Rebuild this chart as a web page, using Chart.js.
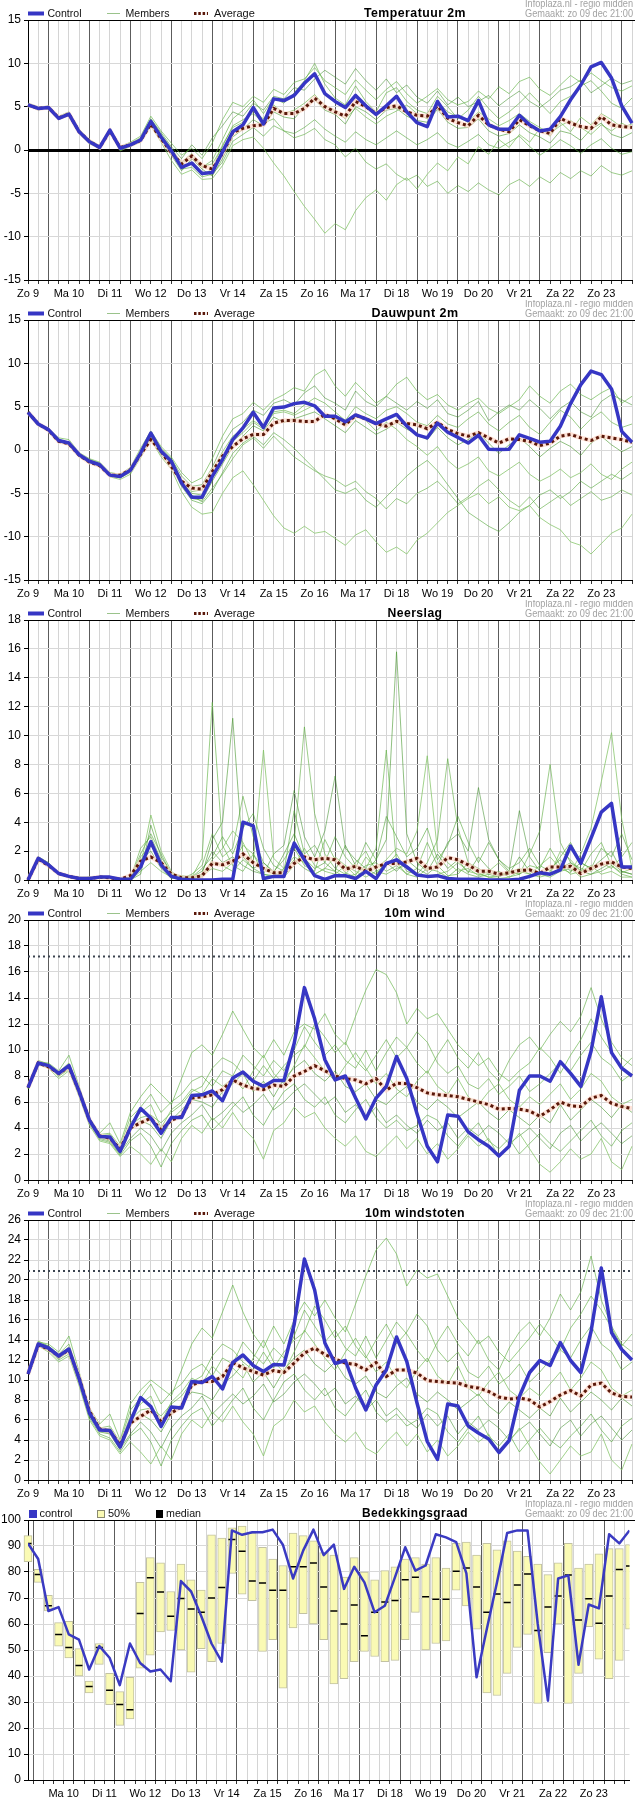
<!DOCTYPE html>
<html><head><meta charset="utf-8">
<script src="https://cdn.jsdelivr.net/npm/chart.js@4.4.1/dist/chart.umd.min.js"></script>
<style>
html,body{margin:0;padding:0;background:#fff;}
#wrap{position:relative;width:635px;height:1800px;overflow:hidden;}
.panel{position:absolute;left:0;width:635px;height:300px;}
canvas{display:block;}
</style></head><body>
<div id="wrap">
<div class="panel" style="top:0"><canvas id="c1" width="635" height="300"></canvas></div>
<div class="panel" style="top:300px"><canvas id="c2" width="635" height="300"></canvas></div>
<div class="panel" style="top:600px"><canvas id="c3" width="635" height="300"></canvas></div>
<div class="panel" style="top:900px"><canvas id="c4" width="635" height="300"></canvas></div>
<div class="panel" style="top:1200px"><canvas id="c5" width="635" height="300"></canvas></div>
<div class="panel" style="top:1500px"><canvas id="c6" width="635" height="300"></canvas></div>
</div>
<script>
// ---------- labels ----------
const days = ['Zo 9','Ma 10','Di 11','Wo 12','Do 13','Vr 14','Za 15','Zo 16','Ma 17','Di 18','Wo 19','Do 20','Vr 21','Za 22','Zo 23'];
const steps = Array.from({length:60},(_,i)=>i);   // 6-hourly steps from Zo 9 12:00
const info1 = 'Infoplaza.nl - regio midden';
const info2 = 'Gemaakt: zo 09 dec 21:00';

// ---------- Temperatuur 2m ----------
const tempCtrl = [5.2,4.8,4.9,3.65,4.15,2.1,0.95,0.3,2.3,0.2, 0.6,1.15,3.3,1.5,-0.1,-2.0,-1.5,-2.7,-2.6,-0.2, 2.1,2.9,4.9,3.0,5.9,5.7,6.3,7.7,8.8,6.5, 5.6,4.9,6.3,5.1,4.1,5.1,6.2,4.4,3.15,2.7, 5.6,3.8,3.9,3.4,5.7,2.9,2.4,2.4,4.0,2.9, 2.2,2.4,3.85,5.8,7.5,9.6,10.1,8.3,5.1,3.1];
const tempAvg = [5.2,4.8,4.9,3.7,4.15,2.1,1.0,0.3,2.2,0.3,0.6,1.1, 3.0,1.3,-0.3,-1.6,-0.7,-1.8,-2.2,-0.4, 2.0,2.5,2.8,2.9,4.8,4.2,4.2,4.8, 6.0,5.0,4.4,3.9,5.6,5.0,4.2,4.9,5.1,4.4, 4.0,3.9,5.1,3.65,3.15,2.8,4.0,2.9,2.4,2.1, 3.5,2.8,2.2,1.9,3.65,3.1,2.7,2.5,3.85,2.9, 2.7,2.6];
const tempM1 = [5.4,5.0,4.8,3.9,4.4,2.4,1.2,0.5,2.1,0.4,0.9,1.6,3.9,2.2, 0.8,-0.6,0.2,-1.0,0.8,3.5, 5.5,5.0,6.2,5.5,7.0,6.4,7.8,8.2, 9.5,8.0,7.2,6.4,8.1,6.9,5.8,7.0, 7.9,6.5,5.4,6.2,7.1,5.8,5.2,5.6, 6.8,5.9,7.3,6.5,7.9,8.4,7.0,6.3, 7.5,8.6,7.8,8.9,8.0,7.2,6.8,7.4];
const tempM2 = [5.1,4.7,5.0,3.5,4.0,2.0,0.8,0.1,2.5,0.0,0.5,1.0,3.0,1.2, -0.6,-2.4,-1.0,-2.2,-3.0,-1.0, 1.5,2.4,3.5,2.8,4.4,3.8,3.6,5.0, 5.8,4.6,4.1,3.0,5.0,4.4,3.5,4.6, 4.8,3.9,3.4,3.2,4.7,3.2,2.5,2.6, 3.6,2.2,1.6,1.9,2.9,2.0,1.5,0.8, 2.2,1.9,1.1,2.4,3.1,1.8,1.4,2.0];
const tempM3 = [5.0,4.9,4.7,3.6,4.0,1.9,0.7,0.2,2.2,-0.1,0.4,0.9,2.8,0.9, -1.2,-2.8,-2.3,-3.4,-3.3,-1.8, 0.5,1.2,1.5,0.2,-1.5,-3.0,-4.8,-6.5, -8.0,-9.6,-8.5,-9.2,-7.0,-5.5,-4.6,-5.8, -4.0,-3.2,-4.5,-2.8,-1.5,-2.4,-0.8,-1.6, 0.4,-0.5,1.2,0.3,1.8,0.9,2.5,1.6, 3.2,2.1,3.8,2.9,4.2,3.5,2.6,3.0];
const tempM4 = [5.3,4.9,5.1,3.8,4.3,2.2,1.1,0.4,2.4,0.3,0.7,1.3,3.5,1.8, 0.2,-1.5,-0.8,-1.9,-1.6,0.4, 2.8,3.5,4.2,3.1,3.6,2.2,1.4,1.8, 2.5,1.2,0.6,-0.8,0.2,-1.4,-2.2,-1.6, -2.8,-3.5,-2.9,-4.2,-3.6,-5.0,-4.1,-4.8, -3.8,-4.6,-5.2,-4.0,-3.4,-4.2,-3.1,-3.8, -2.6,-3.3,-2.4,-3.0,-1.8,-2.6,-2.9,-2.4];
const tempM5 = [5.2,4.6,4.9,3.6,4.2,2.3,1.0,0.4,2.2,0.3,0.8,1.4,3.6,2.0, 0.4,-1.0,0.6,-0.6,1.4,2.8, 4.4,3.9,5.4,4.6,6.2,5.9,7.2,6.9, 8.2,9.2,8.4,7.6,9.4,8.0,6.9,8.2, 6.6,7.5,6.1,5.4,6.8,5.2,6.1,5.0, 5.6,6.3,5.1,6.0,6.8,5.6,4.9,5.8, 6.9,7.3,8.1,6.6,7.4,8.3,7.6,8.0];
const tempM6 = [5.0,4.8,4.8,3.7,4.1,2.0,0.9,0.2,2.3,0.1,0.5,1.1,3.1,1.4, -0.4,-1.8,-1.6,-2.9,-2.2,0.6, 2.6,3.2,4.5,3.6,5.2,4.2,4.6,5.4, 6.4,5.1,4.5,3.6,4.8,3.8,3.0,3.9, 4.5,5.2,4.2,3.6,5.6,4.4,3.8,3.2, 4.4,3.6,2.8,3.4,4.2,3.3,2.6,1.9, 2.8,3.4,2.6,1.8,2.9,2.2,3.1,2.5];
const tempM7 = [5.3,4.7,4.9,3.6,4.2,2.1,1.0,0.3,2.4,0.2,0.6,1.2,3.2,1.6, -0.2,-2.2,-2.0,-3.1,-2.8,-1.4, 1.0,1.8,2.6,1.6,2.8,2.2,1.9,2.6, 3.5,2.4,1.6,0.9,2.1,1.2,0.6,1.4, 2.2,1.4,0.6,1.2,2.0,0.8,0.3,1.0, 1.8,0.6,0.2,0.9,1.6,0.4,-0.6,0.2, 1.2,0.5,-0.4,0.6,1.3,0.2,-0.5,-0.2];
const tempM8 = [5.2,4.9,5.0,3.7,4.1,2.2,0.9,0.3,2.2,0.2,0.6,1.2,3.4,1.3, 0.0,-1.4,-0.4,-2.0,-1.2,1.2, 3.6,4.6,5.8,4.2,6.0,5.4,6.6,8.0, 10.0,7.6,6.0,5.2,7.4,5.6,4.4,6.6, 7.2,5.6,4.6,4.2,6.2,5.0,3.6,4.6, 6.2,4.8,3.6,4.4,5.4,6.6,5.4,4.2, 5.6,6.2,7.4,8.0,6.8,5.4,4.8,6.0];

// ---------- Dauwpunt 2m ----------
const dewCtrl = [4.35,3.0,2.35,1.1,0.8,-0.55,-1.3,-1.7,-2.9,-3.05, -2.35,-0.35,1.95,-0.15,-1.3,-3.8,-5.45,-5.45,-3.05,-1.1, 1.2,2.55,4.35,2.6,4.85,4.95,5.35,5.5,5.1,3.9, 3.9,3.25,4.05,3.6,3.05,3.6,4.1,2.75,1.75,1.4, 3.1,2.05,1.45,0.8,1.7,0.1,0.05,0.1,1.75,1.35, 0.9,1.0,2.75,5.35,7.55,9.1,8.7,7.05,2.15,0.9];
const dewAvg = [4.35,3.0,2.3,1.0,0.7,-0.6,-1.4,-1.8,-2.9,-2.9, -2.3,-0.5,1.2,-0.15,-1.9,-3.6,-4.4,-4.5,-2.5,-0.7, 0.4,1.3,1.8,1.8,3.1,3.4,3.4,3.3,3.3,4.1, 3.6,2.9,4.0,3.6,3.05,2.75,3.3,3.05,2.9,2.45, 3.2,2.35,1.9,1.6,2.0,1.4,0.8,1.3,1.2,1.0, 0.5,0.8,1.6,1.8,1.4,1.1,1.6,1.4,1.2,0.9];
const dewM1 = [4.4,3.1,2.5,1.4,1.2,-0.3,-1.0,-1.4,-2.6,-2.8,-2.0,0.2,2.2,0.4, -0.8,-2.6,-3.8,-3.2,-1.0,1.6, 3.6,4.2,5.5,4.6,5.8,6.4,7.2,6.8, 8.6,9.3,7.4,6.2,7.8,6.6,5.4,6.2, 7.6,8.4,6.8,5.8,6.4,5.2,4.6,5.4, 6.0,4.8,4.2,5.0,5.8,7.4,6.2,5.4, 6.8,7.6,6.4,5.8,6.6,7.2,5.4,6.2];
const dewM2 = [4.3,2.9,2.3,1.0,0.7,-0.7,-1.4,-1.8,-3.0,-3.2,-2.5,-0.6,1.5,-0.4, -1.6,-4.0,-5.6,-5.8,-3.6,-1.6, 0.4,1.6,2.8,2.2,3.8,3.2,3.6,4.0, 4.4,3.6,2.8,2.0,3.4,2.6,1.8,2.4, 3.2,2.4,1.8,1.2,2.6,1.4,0.6,1.2, 2.0,0.8,-0.4,0.6,1.4,0.4,-0.8,0.2, 1.0,0.4,-0.6,0.8,1.6,0.6,-0.2,0.4];
const dewM3 = [4.2,2.8,2.2,0.9,0.6,-0.8,-1.5,-1.9,-3.1,-3.4,-2.8,-0.9,1.2,-0.8, -2.2,-4.8,-6.6,-7.4,-7.2,-5.0, -3.2,-2.4,-4.0,-5.8,-7.6,-9.0,-9.6,-8.8, -9.6,-9.4,-10.2,-11.0,-9.8,-9.2,-10.6,-11.8, -11.2,-12.0,-10.4,-9.6,-8.4,-7.2,-6.4,-5.6, -5.0,-6.2,-5.4,-6.6,-7.0,-6.4,-7.8,-8.6, -9.2,-10.6,-11.0,-12.0,-10.8,-9.6,-9.0,-7.4];
const dewM4 = [4.4,3.0,2.4,1.2,0.9,-0.5,-1.2,-1.6,-2.8,-3.0,-2.3,-0.4,1.8,-0.2, -1.4,-3.6,-5.2,-6.0,-4.4,-2.8, -1.0,0.6,1.4,0.2,1.6,0.4,-0.8,-1.6, -2.4,-3.0,-3.4,-4.2,-3.6,-4.8,-5.6,-6.8, -5.6,-6.2,-5.0,-4.4,-3.6,-4.8,-6.2,-5.4, -4.2,-3.4,-4.6,-5.8,-6.6,-5.4,-6.8,-6.0, -5.2,-6.4,-5.6,-4.8,-5.8,-5.4,-4.6,-5.2];
const dewM5 = [4.3,3.0,2.3,1.1,0.8,-0.6,-1.2,-1.6,-2.8,-3.0,-2.2,-0.2,2.0,0.2, -1.0,-3.0,-4.2,-4.0,-2.0,0.6, 2.4,3.2,4.6,4.0,5.4,5.8,5.2,6.6, 7.4,6.0,5.4,4.6,6.8,5.6,5.0,6.2, 5.4,4.6,5.6,4.8,5.8,4.2,3.8,4.6, 5.6,3.4,4.4,5.2,4.6,5.8,4.8,3.6, 4.8,5.6,4.4,3.8,5.6,6.4,5.8,5.2];
const dewM6 = [4.4,3.0,2.4,1.1,0.8,-0.5,-1.3,-1.7,-2.9,-3.0,-2.4,-0.3,1.9,-0.1, -1.2,-3.4,-4.8,-4.6,-2.4,-0.2, 1.6,2.4,3.4,2.6,4.2,4.4,4.0,4.6, 5.2,4.0,3.6,2.8,4.2,3.4,2.2,3.2, 2.4,1.2,0.4,-0.6,0.4,-1.2,-2.2,-1.6, -0.8,-2.4,-3.0,-2.2,-1.4,-2.8,-3.6,-3.0, -2.2,-3.2,-2.6,-1.6,-2.8,-3.4,-2.2,-1.4];
const dewM7 = [4.3,2.9,2.3,1.0,0.7,-0.7,-1.4,-1.8,-3.0,-3.2,-2.6,-0.7,1.4,-0.6, -1.8,-4.2,-5.8,-6.2,-4.8,-2.6, -0.4,0.8,1.6,0.6,2.0,1.2,0.2,-1.0, -2.2,-3.4,-4.6,-5.0,-4.4,-5.8,-6.6,-5.4, -4.2,-3.0,-2.0,-1.2,-2.4,-4.0,-5.6,-7.2, -8.0,-8.8,-9.4,-8.4,-7.2,-6.4,-5.2,-4.6, -5.6,-4.8,-3.6,-4.4,-3.6,-2.8,-3.4,-2.6];
const dewM8 = [4.4,3.0,2.4,1.1,0.9,-0.4,-1.1,-1.5,-2.8,-2.9,-2.2,-0.4,1.6,0.0, -1.4,-3.8,-5.0,-5.2,-3.0,-0.8, 1.0,2.0,3.2,2.4,4.4,4.6,4.2,5.2, 6.0,5.4,4.4,3.4,5.0,4.2,3.6,4.6, 5.0,4.2,3.2,2.8,4.0,3.0,2.6,3.6, 4.4,3.0,2.2,3.2,4.0,2.6,1.8,3.2, 4.6,3.8,2.4,3.6,4.4,3.2,2.6,3.0];

// ---------- Neerslag ----------
const rainCtrl = [0,1.5,1.05,0.45,0.25,0.1,0.1,0.2,0.2,0.05, 0.05,0.9,2.65,1.05,0.25,0.05,0,0,0,0.05, 0.05,4.0,3.75,0.1,0.25,0.25,2.55,1.4,0.3,0.05, 0.3,0.3,0.1,0.6,0.1,1.15,1.4,0.9,0.35,0.25, 0.3,0.1,0.05,0.05,0.05,0,0,0,0.05,0.25, 0.5,0.4,0.7,2.35,1.15,2.9,4.7,5.3,0.9,0.9];
const rainAvg = [0,1.45,1.0,0.45,0.25,0.1,0.1,0.2,0.15,0.05, 0.3,1.3,1.6,1.2,0.4,0.15,0.15,0.3,1.15,1.05, 1.3,1.8,1.2,0.8,0.5,0.5,1.15,1.6,1.4,1.5, 1.4,0.75,0.95,0.6,0.9,1.15,1.15,1.25,1.5,0.8, 0.9,1.55,1.4,1.05,0.6,0.6,0.4,0.5,0.65,0.7, 0.45,0.9,0.9,0.95,0.45,0.8,1.1,1.25,0.9,0.8];
const rainM1 = [0,1.6,1.2,0.5,0.2,0.1,0.1,0.2,0.1,0,0.1,1.6,2.4,1.2, 0.3,0.1,0.2,1.5,12.3,2.4,1.0,0.6,1.8,0.4,0.3,0.8,2.2,1.0, 0.6,2.8,1.4,0.5,0.2,0.8,2.2,9.0,1.2,0.4,0.8,2.6,1.0,0.3,0.4,1.2, 0.5,0.2,0.3,0.6,0.4,1.0,0.8,2.2,1.0,0.4,0.6,1.8,2.6,1.0,0.5,0.8];
const rainM2 = [0,1.4,1.0,0.4,0.3,0.1,0.2,0.1,0.2,0.1,0,0.4,3.8,1.6, 0.5,0.2,0.1,0.4,2.8,4.0,11.2,1.6,0.8,1.2,0.5,1.8,3.2,1.5, 0.8,1.2,0.6,2.4,1.0,0.6,1.4,2.8,15.8,3.2,1.2,0.6,1.8,0.8,1.4,0.5, 1.6,0.8,0.3,0.4,1.6,0.6,0.3,0.8,1.4,0.6,1.2,0.8,1.4,2.0,0.6,0.4];
const rainM3 = [0,1.5,1.1,0.5,0.2,0.2,0.1,0.2,0.2,0,0.2,1.0,4.5,2.0, 0.6,0.1,0.3,0.2,1.4,2.2,3.4,2.6,1.2,9.0,1.5,0.8,1.6,1.2, 0.4,0.8,1.6,1.0,0.3,1.6,0.8,1.4,2.2,1.8,3.4,8.6,2.0,1.2,0.6,0.8, 0.3,0.6,1.2,0.5,0.8,0.4,1.0,1.6,0.8,0.5,1.8,3.6,6.8,10.2,4.2,0.8];
const rainM4 = [0,1.6,1.1,0.4,0.2,0.1,0.1,0.1,0.2,0,0.1,2.2,3.0,1.4, 0.2,0.1,0.4,1.0,3.2,1.6,2.2,5.8,3.0,1.2,0.6,1.4,2.6,10.6, 4.6,1.8,0.8,0.4,1.2,2.0,0.6,1.0,1.8,0.6,0.4,1.2,2.8,8.4,3.6,1.2, 0.8,0.4,0.2,0.6,0.4,1.8,3.4,8.0,2.6,1.2,0.8,0.6,1.2,0.8,1.6,2.6];
const rainM5 = [0,1.5,1.0,0.5,0.3,0.1,0.2,0.2,0.1,0.1,0.1,1.4,2.0,0.8, 0.1,0.2,0.2,0.6,2.0,1.2,1.6,1.0,0.6,0.4,1.8,2.4,6.2,3.0, 1.6,3.4,7.2,2.2,1.4,0.8,0.4,1.2,0.6,1.4,0.8,0.4,1.0,2.6,3.2,2.0, 6.4,2.8,1.4,0.6,4.8,1.6,0.6,0.4,0.8,1.2,0.6,0.4,0.8,1.2,0.6,0.4];
const rainM6 = [0,1.4,1.1,0.4,0.2,0.1,0.1,0.2,0.1,0,0,0.6,1.2,0.6, 0.2,0,0.1,0.3,0.8,0.6,1.2,2.4,1.8,0.8,0.4,0.2,1.0,2.2, 1.0,0.6,0.4,1.0,0.6,0.2,0.6,0.4,0.8,1.0,0.4,0.2,0.4,0.6,1.2,0.6, 0.4,0.2,0.1,0.2,0.6,0.4,0.2,0.4,2.0,1.4,0.6,1.0,0.4,0.6,0.2,0.2];
const rainM7 = [0,1.6,1.2,0.5,0.3,0.2,0.2,0.2,0.1,0.1,0.2,1.8,3.2,1.8, 0.4,0.3,0.2,0.8,1.6,3.0,1.8,3.6,4.6,2.2,1.0,0.6,4.8,1.8, 2.4,1.2,3.0,1.6,0.8,2.6,1.4,4.4,3.0,1.6,2.2,3.6,1.4,2.4,4.4,2.6, 1.2,2.6,1.4,0.8,1.2,2.2,1.0,0.6,1.6,2.6,1.2,0.8,2.2,1.6,3.2,1.4];
const rainM8 = [0,1.5,1.0,0.4,0.2,0.1,0.1,0.1,0.1,0,0,0.8,2.6,1.2, 0.3,0.1,0.1,0.4,1.2,1.0,0.6,1.4,0.8,0.4,0.2,0.6,1.4,0.8, 0.4,0.8,0.6,0.2,0.4,1.0,1.2,0.6,1.0,0.4,0.2,0.8,0.6,0.2,0.8,0.4, 0.2,0.4,0.6,0.2,0.4,0.8,0.4,0.2,0.6,0.8,0.2,0.4,0.6,1.0,0.4,0.2];

// ---------- 10m wind ----------
const windLimit = 17.2;
const windCtrl = [7.1,9.0,8.8,8.2,8.8,6.8,4.6,3.35,3.3,2.2, 4.0,5.5,4.75,3.6,4.8,4.8,6.5,6.55,6.85,6.1, 7.85,8.3,7.6,7.2,7.65,7.65,10.5,14.8,12.4,9.25, 7.7,8.0,6.3,4.7,6.3,7.2,9.5,7.8,5.1,2.6, 1.4,5.0,4.9,3.7,3.1,2.6,1.85,2.6,6.9,8.0, 8.0,7.6,9.1,8.2,7.2,9.9,14.1,9.8,8.6,8.0];
const windAvg = [7.1,9.0,8.7,8.2,8.7,6.8,4.6,3.4,3.2,2.4, 4.0,4.4,4.75,3.85,4.6,4.9,6.3,6.4,6.55,6.95, 7.7,7.3,7.05,6.95,7.3,7.2,8.0,8.35,8.8,8.4, 8.0,7.8,7.7,7.4,7.8,6.9,7.45,7.4,7.1,6.7, 6.55,6.5,6.4,6.2,6.0,5.8,5.45,5.5,5.45,5.3, 4.9,5.4,6.0,5.7,5.65,6.3,6.5,5.9,5.65,5.5];
const windM1 = [7.2,9.1,9.0,8.4,9.6,7.2,4.8,3.6,4.4,2.8, 5.2,6.4,7.4,6.6,5.8,7.8,9.8,10.4,9.6,11.2, 13.0,11.6,10.2,9.4,10.8,9.6,11.4,12.0,11.6,12.8, 11.2,10.4,12.6,14.6,16.2,15.8,14.4,12.0,13.2,12.4, 12.8,11.6,10.4,9.6,8.8,9.4,8.2,7.6,8.4,9.0, 10.2,9.4,8.2,9.6,10.8,12.4,11.0,9.8,8.6,9.4];
const windM2 = [7.0,9.0,8.7,8.0,8.6,6.6,4.4,3.2,3.0,2.0, 3.8,4.6,4.2,3.2,4.6,5.4,6.2,6.0,5.6,6.8, 7.4,8.2,6.8,7.6,6.4,7.8,8.6,9.2,8.2,7.6, 8.4,7.2,6.8,7.4,6.2,5.8,6.6,7.2,6.0,5.4, 6.2,5.6,4.8,5.4,6.0,5.2,4.6,5.4,4.8,4.2, 5.0,4.4,5.8,4.6,5.4,6.2,5.6,4.8,5.8,5.2];
const windM3 = [7.1,8.9,8.6,7.8,8.4,6.4,4.2,3.0,2.8,1.8, 2.6,2.0,1.2,2.4,1.4,3.2,4.2,3.6,4.8,4.0, 5.2,4.0,3.2,1.6,3.8,4.4,5.6,4.8,5.2,4.0, 3.2,2.6,3.4,2.2,1.8,2.6,3.4,2.4,3.2,2.0, 2.8,1.6,2.4,3.4,2.6,3.2,1.8,2.6,3.6,2.4, 1.2,0.6,1.4,2.4,1.6,2.0,3.2,1.4,0.8,2.6];
const windM4 = [7.2,9.2,8.9,8.3,9.0,7.0,4.7,3.5,3.6,2.6, 4.8,5.6,6.6,5.2,6.0,6.6,7.6,8.0,7.2,8.4, 8.0,9.6,8.8,8.0,9.2,8.4,10.0,11.8,10.6,9.6, 10.4,9.2,8.6,10.0,8.4,9.8,11.0,10.2,9.0,8.2, 9.6,10.8,9.4,8.6,9.8,8.4,7.6,9.2,10.4,11.0, 10.0,11.2,12.2,11.4,12.6,14.8,12.4,10.6,9.4,8.8];
const windM5 = [7.0,8.8,8.8,8.1,8.7,6.7,4.5,3.3,3.1,2.1, 3.2,4.0,3.4,2.2,3.6,4.4,5.0,5.8,4.6,5.2, 6.0,5.2,5.8,6.6,5.4,6.0,6.8,7.4,6.6,5.8, 6.4,5.2,5.8,4.8,5.6,4.4,5.0,4.2,3.6,4.6, 3.8,4.4,3.2,4.0,3.4,4.2,3.6,2.8,3.4,4.0, 3.2,2.4,3.6,4.2,3.0,3.8,4.4,3.6,2.8,3.4];
const windM6 = [7.1,9.0,8.8,8.3,8.9,6.9,4.7,3.4,3.5,2.4, 4.4,5.2,5.8,4.0,5.4,6.0,7.0,6.6,7.8,7.2, 7.8,7.0,8.4,9.6,8.2,7.4,8.8,10.4,9.4,8.4, 7.6,8.8,9.8,8.6,7.4,8.2,7.0,6.4,7.6,8.4, 7.2,6.6,7.8,6.4,5.8,6.8,7.4,6.2,5.6,6.4, 5.8,6.6,7.4,6.2,7.0,8.2,7.6,6.4,5.8,6.2];
const windM7 = [7.0,8.9,8.7,8.0,8.5,6.5,4.3,3.1,2.9,1.9, 3.0,3.6,2.6,1.0,2.8,3.8,4.6,5.0,3.8,4.6, 5.6,6.4,5.0,4.2,5.6,6.8,7.4,6.2,5.6,6.4, 5.0,4.4,5.4,6.2,4.8,4.0,4.6,3.8,4.2,5.0, 4.6,3.4,2.6,3.6,4.4,3.0,2.4,3.2,2.0,2.8, 3.6,2.8,2.2,3.0,3.8,4.6,3.4,2.6,3.8,4.4];
const windM8 = [7.1,9.1,8.9,8.2,8.8,6.8,4.6,3.4,3.3,2.3, 4.2,4.8,5.0,4.4,5.2,5.8,6.8,7.2,8.6,9.4, 9.0,8.2,7.6,8.8,7.8,8.8,9.6,10.2,12.0,11.0, 9.8,10.6,9.2,8.4,9.6,10.8,9.4,10.2,11.4,10.6, 9.0,8.2,8.8,7.4,7.0,7.8,6.6,7.2,8.0,6.8, 7.4,8.2,9.0,8.4,9.6,10.6,9.4,8.8,7.6,8.2];

// ---------- 10m windstoten ----------
const gustLimit = 20.9;
const gustCtrl = [10.6,13.6,13.2,12.4,13.1,10.1,6.7,5.0,4.95,3.3, 5.85,8.25,7.35,5.35,7.3,7.2,9.85,9.75,10.35,9.1, 11.75,12.5,11.45,10.85,11.55,11.5,15.55,22.1,19.0,13.7, 11.65,11.95,9.2,7.0,9.5,11.0,14.3,11.85,7.7,3.85, 2.05,7.6,7.4,5.4,4.7,4.1,2.75,3.95,8.35,10.75, 11.95,11.45,13.75,11.95,10.75,14.85,21.2,14.75,13.05,12.0];
const gustAvg = [10.6,13.5,13.1,12.4,13.0,10.2,6.9,5.1,4.9,3.5, 5.7,6.35,7.0,5.85,6.7,7.35,9.5,9.85,9.85,10.35, 11.75,11.2,10.85,10.5,10.95,10.75,11.7,12.7,13.2,12.55, 12.1,11.7,11.55,11.0,11.75,10.35,11.0,11.0,10.7,9.95, 9.85,9.75,9.7,9.35,9.2,8.85,8.3,8.1,8.2,8.0, 7.3,7.85,8.5,8.95,8.4,9.5,9.7,8.7,8.35,8.3];
const gustM1 = [10.8,13.8,13.6,12.8,14.4,10.8,7.2,5.6,6.6,4.0, 7.6,9.0,10.0,9.2,8.4,11.0,13.6,15.2,14.2,16.8, 19.5,16.8,14.6,13.2,15.4,13.6,16.0,17.8,16.4,18.0, 16.2,14.8,17.6,20.4,23.0,24.2,22.6,19.4,21.0,20.2, 20.6,18.4,16.2,15.0,13.6,14.4,12.8,11.8,13.0,14.2, 15.6,14.4,13.0,15.2,16.6,18.4,17.0,15.2,13.4,14.6];
const gustM2 = [10.6,13.5,13.0,12.2,12.8,9.8,6.4,4.8,4.6,3.0, 5.4,6.6,6.0,4.8,6.6,7.6,8.8,8.6,8.0,9.6, 10.4,11.6,9.8,10.8,9.2,11.0,12.2,13.0,11.6,10.8, 11.8,10.2,9.6,10.4,8.8,8.2,9.4,10.2,8.6,7.8, 8.8,8.0,7.0,7.8,8.6,7.4,6.6,7.8,7.0,6.2, 7.2,6.4,8.2,6.8,7.8,8.8,8.0,7.0,8.2,7.4];
const gustM3 = [10.6,13.4,12.8,11.8,12.4,9.4,6.0,4.4,4.0,2.6, 3.8,2.8,1.6,3.4,2.0,4.6,6.0,5.2,6.8,5.8, 7.4,5.8,4.6,2.4,5.4,6.2,8.0,6.8,7.4,5.8, 4.6,3.8,4.8,3.2,2.6,3.8,4.8,3.4,4.6,2.8, 4.0,2.4,3.4,4.8,3.8,4.6,2.6,3.8,5.2,3.4, 1.8,0.6,2.0,3.4,2.4,2.8,4.6,2.0,1.0,3.6];
const gustM4 = [10.7,13.9,13.4,12.6,13.6,10.4,6.9,5.2,5.4,3.8, 7.0,8.2,9.6,7.6,8.8,9.6,11.0,11.6,10.4,12.2, 11.6,13.8,12.6,11.6,13.2,12.2,14.4,17.0,15.4,13.8, 15.0,13.2,12.4,14.4,12.2,14.0,15.8,14.6,13.0,11.8, 13.8,15.4,13.6,12.4,14.0,12.0,11.0,13.2,14.8,15.8, 14.4,16.2,18.6,17.0,18.8,22.4,18.0,15.4,13.6,12.8];
const gustM5 = [10.6,13.3,13.2,12.1,13.0,10.0,6.6,4.9,4.7,3.1, 4.6,5.8,4.8,3.2,5.2,6.4,7.2,8.4,6.6,7.6, 8.6,7.6,8.4,9.6,7.8,8.6,9.8,10.6,9.6,8.4, 9.2,7.6,8.4,7.0,8.0,6.4,7.2,6.0,5.2,6.6, 5.4,6.4,4.6,5.8,5.0,6.0,5.2,4.0,5.0,5.8, 4.6,3.4,5.2,6.0,4.4,5.6,6.4,5.2,4.0,5.0];
const gustM6 = [10.7,13.6,13.3,12.5,13.3,10.3,6.9,5.0,5.2,3.6, 6.4,7.6,8.4,5.8,7.8,8.8,10.2,9.6,11.4,10.4, 11.2,10.2,12.2,14.0,11.8,10.8,12.8,15.0,13.6,12.2, 11.0,12.8,14.2,12.4,10.8,11.8,10.2,9.2,11.0,12.2, 10.4,9.6,11.4,9.2,8.4,9.8,10.8,9.0,8.2,9.2, 8.4,9.6,10.8,9.0,10.2,11.8,11.0,9.2,8.4,9.0];
const gustM7 = [10.6,13.4,13.0,12.0,12.6,9.6,6.2,4.6,4.2,2.8, 4.4,5.2,3.8,1.4,4.0,5.4,6.6,7.2,5.4,6.6, 8.0,9.2,7.2,6.0,8.0,9.8,10.6,9.0,8.0,9.2, 7.2,6.4,7.8,9.0,6.8,5.8,6.6,5.4,6.0,7.2, 6.6,4.8,3.8,5.2,6.4,4.4,3.4,4.6,2.8,4.0, 5.2,4.0,3.2,4.4,5.4,6.6,5.0,3.8,5.4,6.2];
const gustM8 = [10.7,13.7,13.4,12.4,13.2,10.2,6.8,5.0,5.0,3.4, 6.0,7.0,7.2,6.4,7.6,8.4,9.8,10.4,12.4,13.6, 13.0,11.8,11.0,12.8,11.2,12.8,14.0,14.8,17.4,16.0, 14.2,15.4,13.4,12.2,14.0,15.6,13.6,14.8,16.6,15.4, 13.0,11.8,12.8,10.8,10.2,11.4,9.6,10.4,11.6,9.8, 10.8,12.0,13.0,12.2,14.0,15.4,13.6,12.8,11.0,11.8];

// ---------- Bedekkingsgraad ----------
const cloudCtrl = [91,85,65,66.5,56,54,42.5,51.5,47,36.5, 52.5,45,41.7,42.5,38,76.5,72.5,63,52.5,45.5, 96,94.3,95.3,95.3,96.3,90.5,77.5,88.3,96.3,86.5, 90.5,73.5,82,76,64.5,67,78,89.5,80.5,82.5, 94.5,93.3,91.5,79.5,39.5,58,76,95,96,96, 60,30.5,77.5,78.7,44.3,67.5,66,94.5,91,96];
const cloudLo = [84,76,65,51.5,47,40,33.5,44.5,29,21, 23.5,43,48,57,57.5,50,41.5,50.5,45.5,52.5, 79.5,71.5,69,49.5,54,35.3,58.5,64,60,54, 37,39,45.5,49.5,47.5,45.5,46,54,64.5,50, 52.5,53.5,73,67,58,33.5,32.5,41,51,56, 29.5,49,60,29.5,41,59,46.5,39,46,58];
const cloudHi = [94,81,71,60.5,61,50.5,38,52.5,41,34, 39.5,76,85.5,83.5,72.5,83,77,73,94.3,93, 97,97.7,95,89.5,85,82.5,95,94,92,87.5, 86.5,78,85.5,80,77,80.5,82,85,85.5,83, 85.5,81.5,91,91.5,86.5,91,88.5,92,88,86, 83,79,83.5,91,81.5,83,87,89,89,90.5];
const cloudMed = [91,79,67,56,51,44,36,51,34.5,29, 27,64,77.8,72.3,63,69.8,65.8,64.5,70,74, 92.5,88,76.5,75.8,73,73,82,82,83.5,74.2, 65,60,67.3,55.5,64.5,68.5,69,77,78,70.5, 69.5,69.5,80.3,81.5,74.2,64.5,71.5,68.3,75,79.2, 57.5,66.5,70.8,78.8,61.5,69.7,60.3,70.8,81,82.3];

// ---------- styling ----------
const FONT = '"Liberation Sans", Arial, Helvetica, sans-serif';
Chart.defaults.font.family = FONT;
Chart.defaults.color = '#000';
const CTRL = '#3636c4';
const AVG = '#5a180a';
const MEMBER_COLORS = ['rgba(100,180,70,0.65)','rgba(70,150,45,0.6)','rgba(130,195,100,0.75)','rgba(90,170,60,0.6)','rgba(60,140,40,0.55)','rgba(120,190,90,0.7)','rgba(80,165,55,0.6)','rgba(100,175,70,0.65)'];

function header(title, titleW, kind){
  return {id:'hdr', afterDraw(ch){
    const c = ch.ctx, a = ch.chartArea;
    c.save();
    c.setLineDash([]);
    c.strokeStyle = '#000'; c.lineWidth = 1;
    c.beginPath(); c.moveTo(a.left, a.top + 0.5); c.lineTo(ch.width, a.top + 0.5); c.stroke();
    c.textBaseline = 'middle';
    c.fillStyle = '#000'; c.font = 'bold 13.5px ' + FONT; c.textAlign = 'center';
    if ('letterSpacing' in c) c.letterSpacing = '0.5px';
    c.fillText(title, 415, 13.5, titleW);
    if ('letterSpacing' in c) c.letterSpacing = '0px';
    c.fillStyle = '#a2a2a2'; c.font = '10.5px ' + FONT; c.textAlign = 'right';
    c.fillText(info1, 633, 4.5, 108);
    c.fillText(info2, 633, 14.5, 108);
    c.textAlign = 'left'; c.fillStyle = '#111'; c.font = '11px ' + FONT;
    if (kind === 'line') {
      c.lineCap = 'butt';
      c.strokeStyle = CTRL; c.lineWidth = 4;
      c.beginPath(); c.moveTo(28, 13.5); c.lineTo(44, 13.5); c.stroke();
      c.fillText('Control', 47.5, 13.5, 34);
      c.strokeStyle = 'rgba(120,175,100,0.75)'; c.lineWidth = 1;
      c.beginPath(); c.moveTo(107, 13.5); c.lineTo(120, 13.5); c.stroke();
      c.fillText('Members', 125.5, 13.5, 44);
      c.strokeStyle = AVG; c.lineWidth = 3; c.setLineDash([2.5, 1.8]);
      c.beginPath(); c.moveTo(194, 13.5); c.lineTo(208, 13.5); c.stroke();
      c.setLineDash([]);
      c.fillText('Average', 214, 13.5, 41);
    } else {
      c.fillStyle = CTRL; c.fillRect(29, 10, 8, 8);
      c.fillStyle = '#111'; c.fillText('control', 39.5, 13.5, 33);
      c.fillStyle = '#fafab4'; c.fillRect(97.5, 10.5, 7, 7);
      c.strokeStyle = '#8a8a70'; c.lineWidth = 1; c.strokeRect(97.5, 10.5, 7, 7);
      c.fillStyle = '#111'; c.fillText('50%', 108, 13.5, 22);
      c.fillStyle = '#000'; c.fillRect(156, 10, 7, 8);
      c.fillStyle = '#111'; c.fillText('median', 166, 13.5, 35);
    }
    c.restore();
  }};
}

function linePanel(id, o){
  const ds = [];
  ds.push({data:o.ctrl, borderColor:CTRL, borderWidth:3.5, pointRadius:0, borderJoinStyle:'round', order:0});
  ds.push({data:o.avg, borderColor:AVG, borderWidth:3, borderDash:[3,3], pointRadius:0, order:1});
  ds.push({data:o.avg, borderColor:'rgba(255,215,200,0.7)', borderWidth:4.5, pointRadius:0, order:2});
  if (o.limit !== undefined) {
    ds.push({data:steps.map(() => o.limit), borderColor:'#3c4450', borderWidth:2, borderDash:[2,3], pointRadius:0, order:3});
  }
  o.members.forEach((m, k) => ds.push({data:m, borderColor:MEMBER_COLORS[k % MEMBER_COLORS.length], borderWidth:1, pointRadius:0, order:10 + k}));
  new Chart(document.getElementById(id), {
    type:'line',
    data:{labels:steps, datasets:ds},
    options:{
      responsive:false, animation:false, events:[], devicePixelRatio:1,
      layout:{padding:{top:20, right:1, left:0, bottom:0}},
      plugins:{legend:{display:false}, tooltip:{enabled:false}},
      scales:{
        x:{type:'category', offset:false,
          grid:{color:c => ((c.index - 2) % 4 === 0) ? '#5c5c5c' : '#d4d4d4', tickColor:'#333', tickLength:4, tickWidth:1, lineWidth:1},
          border:{color:'#000', width:1},
          ticks:{autoSkip:false, maxRotation:0, minRotation:0, padding:3, color:'#000', font:{size:11},
            callback:(v, i) => (i % 4 === 0) ? days[i / 4] : ''},
          afterFit:s => { s.height = 20; }},
        y:{min:o.min, max:o.max,
          ticks:{stepSize:o.step, color:'#000', font:{size:12}, padding:3},
          grid:{color:c => (o.zeroBold && c.tick && c.tick.value === 0) ? '#000' : '#d8d8d8',
                lineWidth:c => (o.zeroBold && c.tick && c.tick.value === 0) ? 3 : 1,
                tickColor:'#000', tickLength:4, tickWidth:1},
          border:{color:'#000', width:1},
          afterFit:s => { s.width = 28; }}
      }
    },
    plugins:[header(o.title, o.titleW, 'line')]
  });
}

linePanel('c1', {title:'Temperatuur 2m', titleW:102, min:-15, max:15, step:5, zeroBold:true,
  ctrl:tempCtrl, avg:tempAvg, members:[tempM1,tempM2,tempM3,tempM4,tempM5,tempM6,tempM7,tempM8]});
linePanel('c2', {title:'Dauwpunt 2m', titleW:87, min:-15, max:15, step:5,
  ctrl:dewCtrl, avg:dewAvg, members:[dewM1,dewM2,dewM3,dewM4,dewM5,dewM6,dewM7,dewM8]});
linePanel('c3', {title:'Neerslag', titleW:55, min:0, max:18, step:2,
  ctrl:rainCtrl, avg:rainAvg, members:[rainM1,rainM2,rainM3,rainM4,rainM5,rainM6,rainM7,rainM8]});
linePanel('c4', {title:'10m wind', titleW:61, min:0, max:20, step:2, limit:windLimit,
  ctrl:windCtrl, avg:windAvg, members:[windM1,windM2,windM3,windM4,windM5,windM6,windM7,windM8]});
linePanel('c5', {title:'10m windstoten', titleW:100, min:0, max:26, step:2, limit:gustLimit,
  ctrl:gustCtrl, avg:gustAvg, members:[gustM1,gustM2,gustM3,gustM4,gustM5,gustM6,gustM7,gustM8]});

// ---------- cloud panel ----------
const cloudTicks = steps.slice(0, 59).map(i => i + 0.5);
new Chart(document.getElementById('c6'), {
  type:'bar',
  data:{labels:steps, datasets:[
    {type:'line', data:cloudCtrl, borderColor:'#3a3ac2', borderWidth:2.5, pointRadius:0, borderJoinStyle:'round', order:0},
    {type:'line', data:cloudMed, showLine:false, pointStyle:'line', pointRadius:3.5, pointBorderWidth:1.5, pointBorderColor:'#000', borderColor:'#000', order:1},
    {data:steps.map(i => [cloudLo[i], cloudHi[i]]), backgroundColor:'#fafab4', borderColor:'#c2c2a2', borderWidth:1, borderSkipped:false, barThickness:8, order:2,
     clip:{left:6, top:0, right:0, bottom:0}}
  ]},
  options:{
    responsive:false, animation:false, events:[], devicePixelRatio:1,
    layout:{padding:{top:20, right:1, left:0, bottom:0}},
    plugins:{legend:{display:false}, tooltip:{enabled:false}},
    scales:{
      x:{type:'linear', min:0, max:59, offset:false,
        afterBuildTicks:s => { s.ticks = cloudTicks.map(v => ({value:v})); },
        grid:{offset:false, color:c => (c.tick && Math.abs((c.tick.value - 0.5) % 4) < 1e-6) ? '#5c5c5c' : '#d4d4d4', tickColor:'#333', tickLength:4, tickWidth:1},
        border:{color:'#000', width:1},
        ticks:{autoSkip:false, maxRotation:0, minRotation:0, padding:3, color:'#000', font:{size:11},
          callback:v => { const k = (v - 3.5) / 4; return (Math.abs(k - Math.round(k)) < 1e-6 && k >= 0) ? days[Math.round(k) + 1] : ''; }},
        afterFit:s => { s.height = 20; }},
      y:{min:0, max:100,
        ticks:{stepSize:10, color:'#000', font:{size:12}, padding:3},
        grid:{color:'#d8d8d8', tickColor:'#000', tickLength:4, tickWidth:1},
        border:{color:'#000', width:1},
        afterFit:s => { s.width = 28; }}
    }
  },
  plugins:[header('Bedekkingsgraad', 106, 'cloud')]
});
</script>
</body></html>
